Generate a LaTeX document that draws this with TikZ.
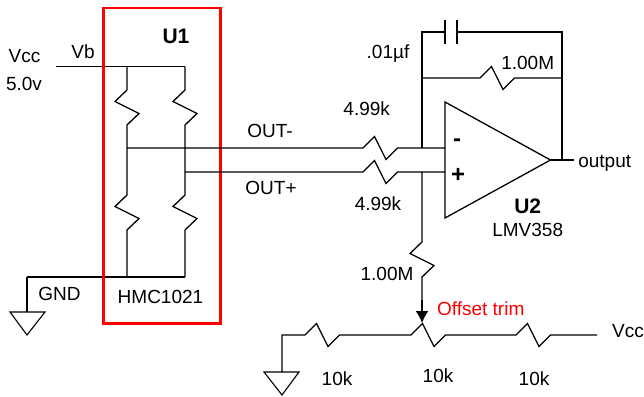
\documentclass[tikz,border=0pt]{standalone}
\usepackage{fontspec}
\setmainfont{Liberation Sans}
\usetikzlibrary{arrows.meta}

\definecolor{boxred}{RGB}{255,0,0}

\begin{document}
\begin{tikzpicture}[x=1pt, y=-1pt, line width=1.3pt, line join=miter,
    lbl/.style = {anchor=base, inner sep=0pt, font=\fontsize{19}{20}\selectfont},
    big/.style = {anchor=base, inner sep=0pt, font=\fontsize{21}{22}\selectfont\bfseries},
    sign/.style = {inner sep=0pt, font=\fontsize{24}{24}\selectfont\bfseries},
    hres/.style = {to path={-- ++(11.5,-11.5) -- ++(11.5,23) -- ++(11.5,-11.5) -- (\tikztotarget)}},
    vres/.style = {to path={-- ++(-12,11.5) -- ++(24,12) -- ++(-12,11.5) -- (\tikztotarget)}},
    gnd/.style = {draw, line width=1.1pt}]
    \useasboundingbox (0,0) rectangle (644,396);
    % U1 bridge
    \coordinate (vb) at (56,66.5);
    \coordinate (la) at (127,66.5);
    \coordinate (ra) at (185,66.5);
    \coordinate (lm) at (127,148);
    \coordinate (rm) at (185,172);
    \coordinate (lb) at (127,277);
    \coordinate (rb) at (185,277);
    \coordinate (g1) at (27,277);
    \coordinate (g1b) at (27,312);
    \draw (vb) -- (ra);
    \draw (la) -- (127,90) to[vres] (lm);
    \draw (ra) -- (185,90) to[vres] (rm);
    \draw (lm) -- (127,195) to[vres] (lb);
    \draw (rm) -- (185,195) to[vres] (rb);
    \draw (g1) -- (rb);
    \draw (g1) -- (g1b);
    \draw[gnd] (g1b) -- ++(-17,0) -- ++(17,23) -- ++(18,-23) -- cycle;
    \draw[boxred, line width=2.2pt] (103.5,8) rectangle (220.5,323.5);
    % U2 amp
    \coordinate (ia) at (445,148);
    \coordinate (ib) at (445,172);
    \coordinate (oa) at (550.5,160);
    \coordinate (ob) at (574,160);
    \coordinate (fb) at (562,160);
    \coordinate (na) at (422,148);
    \coordinate (nb) at (422,172);
    \coordinate (ca) at (422,32);
    \coordinate (cb) at (562,32);
    \coordinate (ra2) at (422,78);
    \coordinate (rb2) at (562,78);
    \coordinate (pt) at (422,323);
    \draw (445,102) -- (445,218) -- (oa) -- cycle;
    \draw (oa) -- (ob);
    \draw (lm) -- (363,148) to[hres] (ia);
    \draw (rm) -- (363,172) to[hres] (ib);
    \draw (ra2) -- (480,78) to[hres] (rb2);
    \draw (na) -- (ca) -- (445,32);
    \draw (457,32) -- (cb) -- (fb);
    \draw (445,20) -- (445,44);
    \draw (457,20) -- (457,44);
    \draw (nb) -- (422,242) to[vres] (422,300);
    \draw[-{Latex[length=12pt,width=13pt]}] (422,300) -- (pt);
    % trim
    \coordinate (g2) at (282,335);
    \coordinate (g2b) at (282,372);
    \coordinate (vc) at (597,335);
    \draw (g2b) -- (g2) -- (305,335) to[hres] (411,335) to[hres] (516,335) to[hres] (vc);
    \draw[gnd] (g2b) -- ++(-18,0) -- ++(18,23) -- ++(17,-23) -- cycle;
    % labels
    \node[lbl] (vcc) at (24.5,62.7) {Vcc};
    \node[lbl] (volt) at (24,90.7) {5.0v};
    \node[lbl] (vbl) at (83,58) {Vb};
    \node[big] (u1) at (176,44) {U1};
    \node[lbl] (gndl) at (59.5,300) {GND};
    \node[lbl] (hmc) at (160.5,303) {HMC1021};
    \node[lbl] (outm) at (270,137) {OUT-};
    \node[lbl] (outp) at (271,194) {OUT+};
    \node[lbl] (ra1l) at (366.7,115.7) {4.99k};
    \node[lbl] (rb1l) at (378,210) {4.99k};
    \node[lbl] (capl) at (388,58) {.01\textmu f};
    \node[lbl] (rfl) at (527.7,70) {1.00M};
    \node[lbl] (outl) at (604.7,167.7) {output};
    \node[big] (u2) at (527.7,213) {U2};
    \node[lbl] (lmv) at (527.7,236.7) {LMV358};
    \node[sign] (minus) at (457,143) {-};
    \node[sign] (plus) at (458,175) {+};
    \node[lbl] (rgl) at (387,280) {1.00M};
    \node[lbl, text=boxred] (trim) at (480.7,315) {Offset trim};
    \node[lbl] (vcr) at (628,337.7) {Vcc};
    \node[lbl] (r1l) at (337,385) {10k};
    \node[lbl] (r2l) at (438,382) {10k};
    \node[lbl] (r3l) at (534,385) {10k};
\end{tikzpicture}
\end{document}
